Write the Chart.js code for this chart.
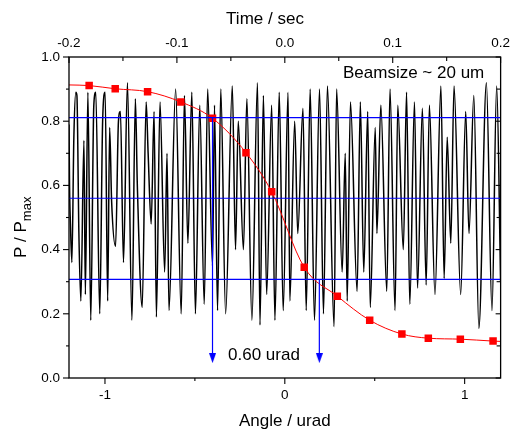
<!DOCTYPE html>
<html><head><meta charset="utf-8">
<script src="https://cdn.jsdelivr.net/npm/chart.js@4.4.0/dist/chart.umd.min.js"></script>
<style>html,body{margin:0;padding:0;background:#fff}#wrap{width:516px;height:430px}</style>
</head><body><div id="wrap"><canvas id="c" width="516" height="430"></canvas></div>
<script>
// ---- data ----
const signalAngle = [-1.2,-1.197,-1.192,-1.184,-1.173,-1.162,-1.156,-1.145,-1.134,-1.117,-1.109,-1.095,-1.079,-1.062,-1.051,-1.029,-1.013,-0.999,-0.985,-0.974,-0.963,-0.941,-0.925,-0.914,-0.897,-0.875,-0.850,-0.831,-0.820,-0.793,-0.771,-0.760,-0.743,-0.727,-0.714,-0.694,-0.668,-0.655,-0.644,-0.607,-0.576,-0.558,-0.539,-0.517,-0.497,-0.473,-0.448,-0.429,-0.402,-0.391,-0.374,-0.356,-0.329,-0.292,-0.274,-0.259,-0.230,-0.211,-0.183,-0.152,-0.138,-0.119,-0.101,-0.073,-0.055,-0.031,-0.009,0.018,0.028,0.055,0.072,0.101,0.119,0.141,0.165,0.193,0.215,0.237,0.274,0.288,0.319,0.336,0.347,0.365,0.402,0.420,0.439,0.461,0.475,0.503,0.512,0.534,0.567,0.585,0.613,0.628,0.659,0.677,0.695,0.721,0.738,0.765,0.786,0.804,0.835,0.868,0.886,0.903,0.923,0.941,0.978,1.006,1.024,1.051,1.079,1.121,1.152,1.178,1.2];
const signalValue = [0.79,0.60,0.48,0.36,0.75,0.89,0.88,0.45,0.24,0.74,0.26,0.89,0.18,0.85,0.89,0.20,0.80,0.89,0.24,0.78,0.55,0.41,0.80,0.83,0.36,0.92,0.18,0.87,0.60,0.22,0.86,0.70,0.48,0.83,0.19,0.86,0.33,0.70,0.21,0.90,0.20,0.88,0.42,0.89,0.20,0.85,0.23,0.90,0.35,0.85,0.21,0.90,0.20,0.91,0.40,0.80,0.40,0.87,0.18,0.92,0.165,0.88,0.26,0.85,0.18,0.89,0.21,0.89,0.24,0.80,0.45,0.84,0.21,0.90,0.18,0.90,0.20,0.91,0.16,0.90,0.33,0.70,0.24,0.86,0.27,0.86,0.33,0.83,0.22,0.78,0.45,0.85,0.27,0.90,0.21,0.85,0.40,0.89,0.23,0.86,0.28,0.84,0.29,0.85,0.26,0.91,0.31,0.75,0.42,0.91,0.26,0.83,0.45,0.88,0.155,0.92,0.21,0.91,0.30];

const fitAngle = [-1.2,-1.088,-0.943,-0.763,-0.578,-0.402,-0.216,-0.073,0.108,0.292,0.472,0.651,0.798,0.976,1.158,1.2];
const fitValue = [0.913,0.911,0.901,0.892,0.860,0.809,0.702,0.580,0.345,0.255,0.180,0.137,0.124,0.121,0.115,0.114];

const levelValues = [0.811, 0.560, 0.307];
const arrowAngles = [-0.402, 0.192];
const arrowStart = [0.811, 0.307];
const arrowEnd = 0.062;

const bottomMajor = [-1, 0, 1];
const bottomMinor = [-0.5, 0.5];
const topMajor = [-0.2, -0.1, 0, 0.1, 0.2];
const topMinor = [-0.15, -0.05, 0.05, 0.15];
const yMajor = [0, 0.2, 0.4, 0.6, 0.8, 1.0];
const yMinor = [0.1, 0.3, 0.5, 0.7, 0.9];

const FONT = '"Liberation Sans", Arial, Helvetica, sans-serif';

// arrow head image
const head = document.createElement('canvas');
head.width = 7; head.height = 10;
(function(){const g = head.getContext('2d'); g.fillStyle = '#0000ff'; g.beginPath(); g.moveTo(0,0); g.lineTo(7,0); g.lineTo(3.5,10); g.closePath(); g.fill();})();

const datasets = [];
arrowAngles.forEach((a, i) => {
  datasets.push({data:[{x:a, y:arrowStart[i]}, {x:a, y:arrowEnd}], showLine:true, borderColor:'#0000ff', borderWidth:1.2,
    pointRadius:[0,5], pointStyle:head, pointBackgroundColor:'#0000ff', pointBorderWidth:0});
});
levelValues.forEach(v => {
  datasets.push({data:[{x:-1.2, y:v}, {x:1.2, y:v}], showLine:true, borderColor:'#0000ff', borderWidth:1.2, pointRadius:0});
});
datasets.push({
  data: fitAngle.map((a, i) => ({x:a, y:fitValue[i]})), showLine:true, borderColor:'#ff0000', borderWidth:1,
  cubicInterpolationMode:'monotone', pointStyle:'rect', pointBackgroundColor:'#ff0000', pointBorderColor:'#ff0000', pointBorderWidth:0,
  pointRadius: fitAngle.map((a, i) => (i === 0 || i === fitAngle.length - 1) ? 0 : 5.3)
});
datasets.push({
  data: signalAngle.map((a, i) => ({x:a, y:signalValue[i]})), showLine:true, borderColor:'#000000', borderWidth:1.5, pointRadius:0,
  cubicInterpolationMode:'monotone'
});

const decor = {
  id:'decor',
  afterDatasetsDraw(chart){
    const {ctx, chartArea:a, scales} = chart;
    const x = scales.x, y = scales.y, x2 = scales.x2;
    ctx.save();
    ctx.strokeStyle = '#000'; ctx.lineWidth = 1.3;
    ctx.strokeRect(a.left, a.top, a.right - a.left, a.bottom - a.top);
    ctx.lineWidth = 1.1;
    const line = (x1, y1, xx, yy) => { ctx.beginPath(); ctx.moveTo(x1, y1); ctx.lineTo(xx, yy); ctx.stroke(); };
    yMajor.forEach(v => { const p = y.getPixelForValue(v); line(a.left - 6, p, a.left, p); line(a.right, p, a.right - 5, p); });
    yMinor.forEach(v => { const p = y.getPixelForValue(v); line(a.left - 3, p, a.left, p); line(a.right, p, a.right - 4, p); });
    bottomMajor.forEach(v => { const p = x.getPixelForValue(v); line(p, a.bottom, p, a.bottom + 6); });
    bottomMinor.forEach(v => { const p = x.getPixelForValue(v); line(p, a.bottom, p, a.bottom + 3); });
    topMajor.forEach(v => { const p = x2.getPixelForValue(v); line(p, a.top, p, a.top + 6); });
    topMinor.forEach(v => { const p = x2.getPixelForValue(v); line(p, a.top, p, a.top + 4); });
    ctx.restore();
  },
  afterDraw(chart){
    const ctx = chart.ctx;
    ctx.save();
    ctx.fillStyle = '#000';
    ctx.font = '17px ' + FONT;
    ctx.textAlign = 'center'; ctx.textBaseline = 'middle';
    ctx.fillText('Time / sec', 265, 19);
    ctx.textAlign = 'left';
    ctx.fillText('Beamsize ~ 20 um', 343, 73);
    ctx.fillText('0.60 urad', 228, 355);
    // y title
    ctx.translate(26, 258);
    ctx.rotate(-Math.PI / 2);
    ctx.textBaseline = 'alphabetic';
    ctx.font = '17px ' + FONT;
    ctx.fillText('P / P', 0, 0);
    const w = ctx.measureText('P / P').width;
    ctx.font = '13px ' + FONT;
    ctx.fillText('max', w, 4.5);
    ctx.restore();
  }
};

const tickFont = {family: FONT, size: 13.5};
new Chart(document.getElementById('c'), {
  type:'scatter',
  data:{datasets},
  options:{
    responsive:false, animation:false, events:[],
    layout:{padding:{left:0, right:11, top:0, bottom:0}},
    plugins:{legend:{display:false}, tooltip:{enabled:false}},
    scales:{
      x:{type:'linear', position:'bottom', min:-1.2, max:1.2,
        afterFit(s){ s.height = 52; },
        afterBuildTicks(s){ s.ticks = bottomMajor.map(v => ({value:v})); },
        ticks:{font:tickFont, color:'#000', padding:9, maxRotation:0, callback:v => String(v)},
        grid:{display:false, drawTicks:false}, border:{display:false},
        title:{display:true, text:'Angle / urad', color:'#000', font:{family:FONT, size:17, lineHeight:1}, padding:0}
      },
      x2:{type:'linear', position:'top', min:-0.2, max:0.2,
        afterFit(s){ s.height = 57; },
        afterBuildTicks(s){ s.ticks = topMajor.map(v => ({value:v})); },
        ticks:{font:tickFont, color:'#000', padding:6, maxRotation:0, callback:v => Number(v).toFixed(1)},
        grid:{display:false, drawTicks:false}, border:{display:false}
      },
      y:{type:'linear', position:'left', min:0, max:1,
        afterFit(s){ s.width = 69; },
        afterBuildTicks(s){ s.ticks = yMajor.map(v => ({value:v})); },
        ticks:{font:tickFont, color:'#000', padding:9, callback:v => Number(v).toFixed(1)},
        grid:{display:false, drawTicks:false}, border:{display:false}
      }
    }
  },
  plugins:[decor]
});
</script></body></html>
